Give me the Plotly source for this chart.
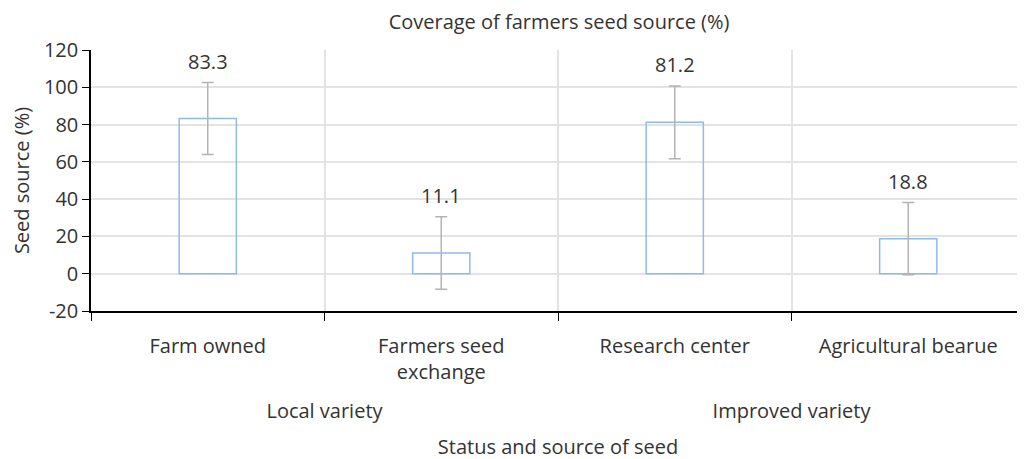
import plotly.graph_objects as go

groups = ["Local variety", "Local variety", "Improved variety", "Improved variety"]
sources = ["Farm owned", "Farmers seed<br>exchange<br> ", "Research center", "Agricultural bearue"]
coverage = [83.3, 11.1, 81.2, 18.8]
errors = [19.3, 19.4, 19.5, 19.4]
labels = ["83.3", "11.1", "81.2", "18.8"]
y_ticks = [-20, 0, 20, 40, 60, 80, 100, 120]
y_tick_text = ["-20", "0", "20", "40", "60", "80", "100", "120"]

FONT = "Open Sans"
FS = 20
TXT = "#333333"
fig = go.Figure()
fig.add_trace(go.Bar(
    x=[groups, sources], y=coverage,
    width=0.245,
    marker=dict(color="rgba(255,255,255,0)", line=dict(color="#8fbbe8", width=1.5)),
    error_y=dict(type="data", array=errors, visible=True, color="#b3b3b3", thickness=1.5, width=6),
    hoverinfo="skip",
))
for i, (v, e, t) in enumerate(zip(coverage, errors, labels)):
    fig.add_annotation(x=i, y=v + e, text=t, showarrow=False, xref="x", yref="y",
                       yshift=21, font=dict(family=FONT, size=FS, color=TXT))

fig.update_layout(
    width=1025, height=459,
    margin=dict(l=83, r=8, t=42, b=156),
    paper_bgcolor="white", plot_bgcolor="white",
    font=dict(family=FONT, size=FS, color=TXT),
    title=dict(text="Coverage of farmers seed source (%)", x=0.5376, xanchor="center",
               y=0.97, yanchor="middle", font=dict(family=FONT, size=FS, color=TXT)),
    showlegend=False,
)
fig.update_yaxes(
    range=[-20, 120], tickvals=y_ticks, ticktext=y_tick_text,
    showgrid=True, gridcolor="#e3e3e3", gridwidth=1.5,
    zeroline=False, showline=True, linecolor="#000000", linewidth=1.5,
    ticks="outside", ticklen=7, tickcolor="#000000", automargin=False,
    title=dict(text="Seed source (%)", standoff=13, font=dict(family=FONT, size=FS)),
    tickfont=dict(family=FONT, size=FS, color=TXT),
)
fig.update_xaxes(
    type="multicategory", tickson="boundaries", showgrid=True, gridcolor="#e3e3e3", gridwidth=1.5,
    showline=True, linecolor="#000000", linewidth=1.5, ticks="outside", ticklen=8, tickcolor="#000000",
    showdividers=False, automargin=False, ticklabelstandoff=16,
    tickfont=dict(family=FONT, size=FS, color=TXT),
    title=dict(text="Status and source of seed", standoff=17, font=dict(family=FONT, size=FS)),
)
fig.write_html("out.html")
